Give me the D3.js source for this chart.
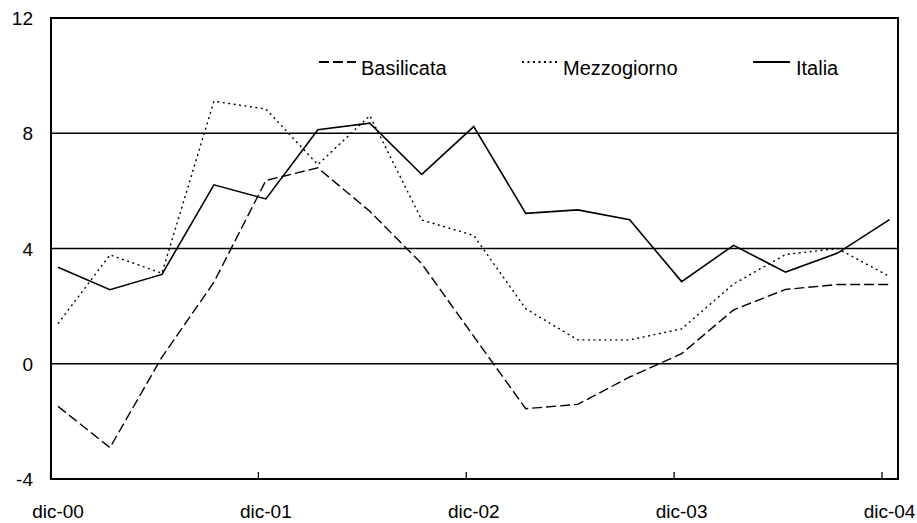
<!DOCTYPE html>
<html>
<head>
<meta charset="utf-8">
<script src="https://cdn.jsdelivr.net/npm/d3@7"></script>
<style>
  body { margin: 0; background: #fff; }
  svg { display: block; }
</style>
</head>
<body>
<svg id="chart"></svg>
<script>
// quarterly values, dic-00 .. dic-04
const quarters = ["dic-00", "mar-01", "giu-01", "set-01", "dic-01", "mar-02", "giu-02", "set-02", "dic-02",
                  "mar-03", "giu-03", "set-03", "dic-03", "mar-04", "giu-04", "set-04", "dic-04"];
const basilicata = [-1.48, -2.91, 0.23, 2.83, 6.36, 6.8, 5.29, 3.47, 0.95, -1.56, -1.41, -0.46, 0.35, 1.87, 2.58, 2.75, 2.75];
const mezzogiorno = [1.39, 3.78, 3.14, 9.11, 8.84, 6.91, 8.61, 4.99, 4.45, 1.91, 0.83, 0.83, 1.21, 2.77, 3.79, 4.0, 3.03];
const italia = [3.35, 2.57, 3.1, 6.21, 5.72, 8.12, 8.35, 6.57, 8.23, 5.22, 5.34, 5.0, 2.85, 4.11, 3.18, 3.84, 5.0];
const yTicks = [-4, 0, 4, 8, 12];
const xLabels = ["dic-00", "dic-01", "dic-02", "dic-03", "dic-04"];

const width = 917;
const height = 523;
const plot = { left: 51, right: 898, top: 18, bottom: 479 };

const svg = d3.select("#chart")
    .attr("width", width)
    .attr("height", height);

const x = d3.scaleLinear()
    .domain([0, quarters.length - 1])
    .range([58, 889.5]);

const y = d3.scaleLinear()
    .domain([-4, 12])
    .range([plot.bottom, plot.top]);

const font = "'Liberation Sans', Arial, sans-serif";

// gridlines
svg.append("g")
    .selectAll("line")
    .data(yTicks.filter(d => d > -4 && d < 12))
    .enter()
    .append("line")
    .attr("x1", plot.left)
    .attr("x2", plot.right)
    .attr("y1", d => y(d))
    .attr("y2", d => y(d))
    .attr("stroke", "#000")
    .attr("stroke-width", 1.3);

// frame
svg.append("rect")
    .attr("x", plot.left)
    .attr("y", plot.top)
    .attr("width", plot.right - plot.left)
    .attr("height", plot.bottom - plot.top)
    .attr("fill", "none")
    .attr("stroke", "#000")
    .attr("stroke-width", 2);

// y labels
svg.append("g")
    .selectAll("text")
    .data(yTicks)
    .enter()
    .append("text")
    .attr("x", 33)
    .attr("y", d => y(d) + 7)
    .attr("text-anchor", "end")
    .style("font-family", font)
    .style("font-size", "19px")
    .text(d => d);

// x ticks and labels (one per year)
const yearIdx = xLabels.map(l => quarters.indexOf(l));

svg.append("g")
    .selectAll("line")
    .data(yearIdx)
    .enter()
    .append("line")
    .attr("x1", d => x(d) - 7.5)
    .attr("x2", d => x(d) - 7.5)
    .attr("y1", plot.bottom)
    .attr("y2", plot.bottom - 7)
    .attr("stroke", "#000")
    .attr("stroke-width", 1.3);

svg.append("g")
    .selectAll("text")
    .data(yearIdx)
    .enter()
    .append("text")
    .attr("x", d => x(d))
    .attr("y", 518)
    .attr("text-anchor", "middle")
    .style("font-family", font)
    .style("font-size", "19px")
    .text(d => quarters[d]);

// series
const series = [
    { name: "Basilicata", values: basilicata, dash: "10,4", width: 1.4, lx: 319, tx: 361 },
    { name: "Mezzogiorno", values: mezzogiorno, dash: "2,3.5", width: 1.4, lx: 522, tx: 563 },
    { name: "Italia", values: italia, dash: null, width: 1.6, lx: 753, tx: 796 }
];

const line = d3.line()
    .x((d, i) => x(i))
    .y(d => y(d));

series.forEach(s => {
    svg.append("path")
        .datum(s.values)
        .attr("d", line)
        .attr("fill", "none")
        .attr("stroke", "#000")
        .attr("stroke-width", s.width)
        .attr("stroke-dasharray", s.dash);

    // legend
    svg.append("line")
        .attr("x1", s.lx)
        .attr("x2", s.lx + 37)
        .attr("y1", 62)
        .attr("y2", 62)
        .attr("stroke", "#000")
        .attr("stroke-width", s.dash ? 2 : 1.8)
        .attr("stroke-dasharray", s.dash);

    svg.append("text")
        .attr("x", s.tx)
        .attr("y", 75)
        .style("font-family", font)
        .style("font-size", "20px")
        .text(s.name);
});
</script>
</body>
</html>
